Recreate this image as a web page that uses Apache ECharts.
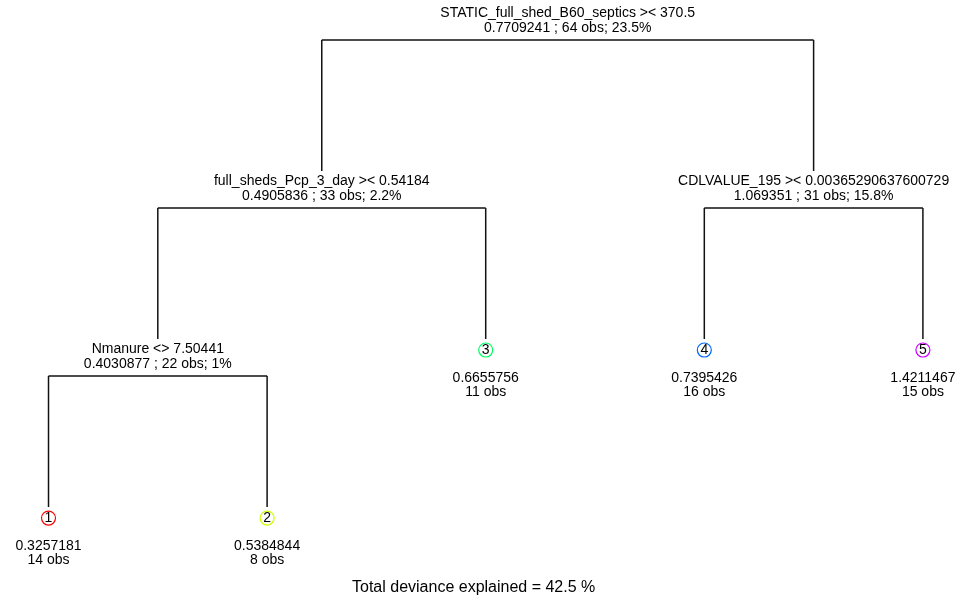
<!DOCTYPE html>
<html>
<head>
<meta charset="utf-8">
<script src="https://cdn.jsdelivr.net/npm/echarts@6/dist/echarts.min.js"></script>
<style>html,body{margin:0;padding:0;background:#fff}#chart{width:963px;height:603px}</style>
</head>
<body>
<div id="chart"></div>
<script>
// ---- data ----
const splitNames = ["root", "n1", "n2", "n3"];
const splitLabels = [
  "STATIC_full_shed_B60_septics >< 370.5",
  "full_sheds_Pcp_3_day >< 0.54184",
  "CDLVALUE_195 >< 0.00365290637600729",
  "Nmanure <> 7.50441"
];
const splitMeans = ["0.7709241", "0.4905836", "1.069351", "0.4030877"];
const splitObs = [64, 33, 31, 22];
const splitPct = ["23.5%", "2.2%", "15.8%", "1%"];
const splitChildren = [["n1", "n2"], ["n3", "L3"], ["L4", "L5"], ["L1", "L2"]];
const leafNames = ["L1", "L2", "L3", "L4", "L5"];
const leafMeans = ["0.3257181", "0.5384844", "0.6655756", "0.7395426", "1.4211467"];
const leafObs = [14, 8, 11, 16, 15];
const leafColors = ["#FF0000", "#CCFF00", "#00FF66", "#0066FF", "#CC00FF"];
const footerText = "Total deviance explained = 42.5 %";

// ---- layout from tree structure ----
const pos = {}, depth = {};
function place(name, d) {
  depth[name] = d;
  const li = leafNames.indexOf(name);
  if (li >= 0) { pos[name] = li + 1; return pos[name]; }
  const si = splitNames.indexOf(name);
  const [a, b] = splitChildren[si];
  pos[name] = (place(a, d + 1) + place(b, d + 1)) / 2;
  return pos[name];
}
place("root", 0);

const splitData = splitNames.map((n, i) => {
  const [a, b] = splitChildren[i];
  return [pos[n], depth[n], pos[a], depth[a], pos[b], depth[b], i];
});
const leafData = leafNames.map((n, i) => [pos[n], depth[n], i]);

const FONT = 'Liberation Sans, Arial, sans-serif';
const chart = echarts.init(document.getElementById('chart'));
chart.setOption({
  animation: false,
  backgroundColor: '#ffffff',
  grid: { left: 0, right: 0, top: 0, bottom: 0 },
  xAxis: { type: 'value', min: 0.7781, max: 5.1834, show: false },
  yAxis: { type: 'value', min: -0.238, max: 3.351, inverse: true, show: false },
  graphic: [{
    type: 'text', left: 352, top: 580,
    style: { text: footerText, font: '16px ' + FONT, fill: '#000' }
  }],
  series: [{
    type: 'custom',
    coordinateSystem: 'cartesian2d',
    data: splitData,
    renderItem: function (params, api) {
      const p = api.coord([api.value(0), api.value(1)]);
      const a = api.coord([api.value(2), api.value(3)]);
      const b = api.coord([api.value(4), api.value(5)]);
      const i = api.value(6);
      const ls = { stroke: '#111', lineWidth: 1.5 };
      return {
        type: 'group',
        children: [
          { type: 'line', shape: { x1: a[0], y1: p[1], x2: b[0], y2: p[1] }, style: ls },
          { type: 'line', shape: { x1: a[0], y1: p[1], x2: a[0], y2: a[1] - 37 }, style: ls },
          { type: 'line', shape: { x1: b[0], y1: p[1], x2: b[0], y2: b[1] - 37 }, style: ls },
          { type: 'text', x: p[0], y: p[1] - 27, style: { text: splitLabels[i], font: '14px ' + FONT, fill: '#000', textAlign: 'center', textVerticalAlign: 'middle' } },
          { type: 'text', x: p[0], y: p[1] - 12, style: { text: splitMeans[i] + ' ; ' + splitObs[i] + ' obs; ' + splitPct[i], font: '14px ' + FONT, fill: '#000', textAlign: 'center', textVerticalAlign: 'middle' } }
        ]
      };
    }
  }, {
    type: 'custom',
    coordinateSystem: 'cartesian2d',
    data: leafData,
    renderItem: function (params, api) {
      const p = api.coord([api.value(0), api.value(1)]);
      const i = api.value(2);
      return {
        type: 'group',
        children: [
          { type: 'circle', shape: { cx: p[0], cy: p[1] - 26, r: 7 }, style: { fill: 'none', stroke: leafColors[i], lineWidth: 1.2 } },
          { type: 'text', x: p[0], y: p[1] - 26, style: { text: String(i + 1), font: '14px ' + FONT, fill: '#000', textAlign: 'center', textVerticalAlign: 'middle' } },
          { type: 'text', x: p[0], y: p[1] + 2, style: { text: leafMeans[i], font: '14px ' + FONT, fill: '#000', textAlign: 'center', textVerticalAlign: 'middle' } },
          { type: 'text', x: p[0], y: p[1] + 16, style: { text: leafObs[i] + ' obs', font: '14px ' + FONT, fill: '#000', textAlign: 'center', textVerticalAlign: 'middle' } }
        ]
      };
    }
  }]
});
</script>
</body>
</html>
